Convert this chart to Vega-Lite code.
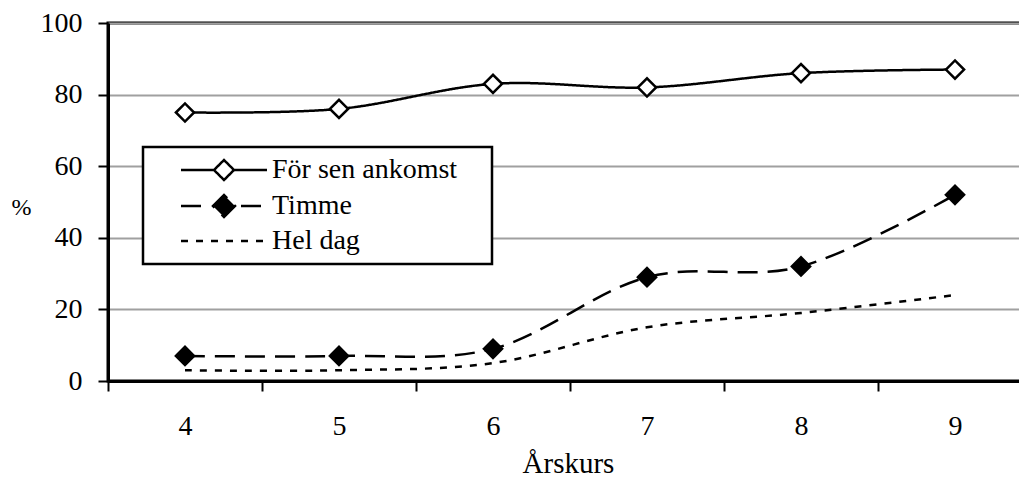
{
  "$schema": "https://vega.github.io/schema/vega-lite/v6.json",
  "width": 924,
  "height": 358,
  "autosize": {"type": "none"},
  "padding": {"left": 108, "top": 23, "right": 0, "bottom": 97},
  "background": "white",
  "config": {
    "view": {"stroke": "black", "strokeWidth": 3},
    "font": "Liberation Serif"
  },
  "data": {
    "values": [
      {"grade": "4", "series": "För sen ankomst", "value": 75},
      {"grade": "5", "series": "För sen ankomst", "value": 76},
      {"grade": "6", "series": "För sen ankomst", "value": 83},
      {"grade": "7", "series": "För sen ankomst", "value": 82},
      {"grade": "8", "series": "För sen ankomst", "value": 86},
      {"grade": "9", "series": "För sen ankomst", "value": 87},
      {"grade": "4", "series": "Timme", "value": 7},
      {"grade": "5", "series": "Timme", "value": 7},
      {"grade": "6", "series": "Timme", "value": 9},
      {"grade": "7", "series": "Timme", "value": 29},
      {"grade": "8", "series": "Timme", "value": 32},
      {"grade": "9", "series": "Timme", "value": 52},
      {"grade": "4", "series": "Hel dag", "value": 3},
      {"grade": "5", "series": "Hel dag", "value": 3},
      {"grade": "6", "series": "Hel dag", "value": 5},
      {"grade": "7", "series": "Hel dag", "value": 15},
      {"grade": "8", "series": "Hel dag", "value": 19},
      {"grade": "9", "series": "Hel dag", "value": 24}
    ]
  },
  "encoding": {
    "x": {
      "field": "grade",
      "type": "ordinal",
      "bandPosition": 0.5,
      "scale": {"type": "band", "paddingInner": 0, "paddingOuter": 0},
      "axis": {
        "labelAngle": 0,
        "tickBand": "extent",
        "grid": false,
        "domainColor": "black",
        "domainWidth": 3,
        "tickColor": "black",
        "tickWidth": 2,
        "tickSize": 10,
        "labelFont": "Liberation Serif",
        "labelFontSize": 28,
        "labelColor": "black",
        "labelPadding": 21,
        "labelBaseline": "top",
        "title": "Årskurs",
        "titleFont": "Liberation Serif",
        "titleFontSize": 29,
        "titleFontWeight": "normal",
        "titleColor": "black",
        "titleBaseline": "alphabetic",
        "titleAlign": "center",
        "titleX": 460,
        "titleY": 91
      }
    },
    "y": {
      "field": "value",
      "type": "quantitative",
      "scale": {"domain": [0, 100]},
      "axis": {
        "values": [0, 20, 40, 60, 80, 100],
        "grid": true,
        "gridColor": "#a0a0a0",
        "gridWidth": 2,
        "domainColor": "black",
        "domainWidth": 3,
        "tickColor": "black",
        "tickWidth": 2,
        "tickSize": 10,
        "labelFont": "Liberation Serif",
        "labelFontSize": 28,
        "labelColor": "black",
        "labelPadding": 16,
        "title": "%",
        "titleAngle": 0,
        "titleX": -87,
        "titleY": 184,
        "titleAlign": "center",
        "titleBaseline": "middle",
        "titleFont": "Liberation Serif",
        "titleFontSize": 24,
        "titleFontWeight": "normal",
        "titleColor": "black"
      }
    }
  },
  "layer": [
    {
      "mark": {"type": "line", "interpolate": "cardinal", "stroke": "black", "strokeWidth": 2.5},
      "encoding": {
        "strokeDash": {
          "field": "series",
          "type": "nominal",
          "scale": {
            "domain": ["För sen ankomst", "Timme", "Hel dag"],
            "range": [[1, 0], [20, 10], [7, 8]]
          },
          "legend": {
            "title": null,
            "orient": "none",
            "legendX": 35,
            "legendY": 124,
            "direction": "vertical",
            "padding": 9,
            "rowPadding": 5,
            "labelFont": "Liberation Serif",
            "labelFontSize": 28,
            "labelColor": "black",
            "labelBaseline": "middle",
            "labelLimit": 0,
            "symbolSize": 400,
            "symbolStrokeWidth": 2.5,
            "symbolStrokeColor": "black",
            "symbolOffset": 58,
            "labelOffset": 34,
            "strokeColor": "black",
            "fillColor": "white",
            "encode": {
              "legend": {"update": {"strokeWidth": {"value": 2.5}}},
              "symbols": {
                "update": {
                  "shape": {"signal": "datum.value === 'För sen ankomst' ? 'M-4.3,0H-1L0,-1L1,0L0,1L-1,0M1,0H4.3M25.4,0' : datum.value === 'Timme' ? 'M-4.3,0H-2.1M-1.1,0L0,-1.1L1.1,0L0,1.1ZM1.7,0H4.3' : 'M-4.3,0H-3.6M-2.8,0H-2.1M-1.3,0H-0.6M0.2,0H0.9M1.7,0H2.4M3.2,0H3.9'"},
                  "fill": {"signal": "datum.value === 'För sen ankomst' ? 'white' : datum.value === 'Timme' ? 'black' : 'transparent'"},
                  "stroke": {"value": "black"},
                  "strokeDash": {"value": [1, 0]},
                  "opacity": {"value": 1}
                }
              }
            }
          }
        }
      }
    },
    {
      "transform": [{"filter": "datum.series !== 'Hel dag'"}],
      "mark": {"type": "point", "shape": "diamond", "size": 330, "filled": true, "stroke": "black", "strokeWidth": 2.5, "opacity": 1},
      "encoding": {
        "fill": {
          "field": "series",
          "type": "nominal",
          "scale": {"domain": ["För sen ankomst", "Timme"], "range": ["white", "black"]},
          "legend": null
        }
      }
    }
  ]
}
